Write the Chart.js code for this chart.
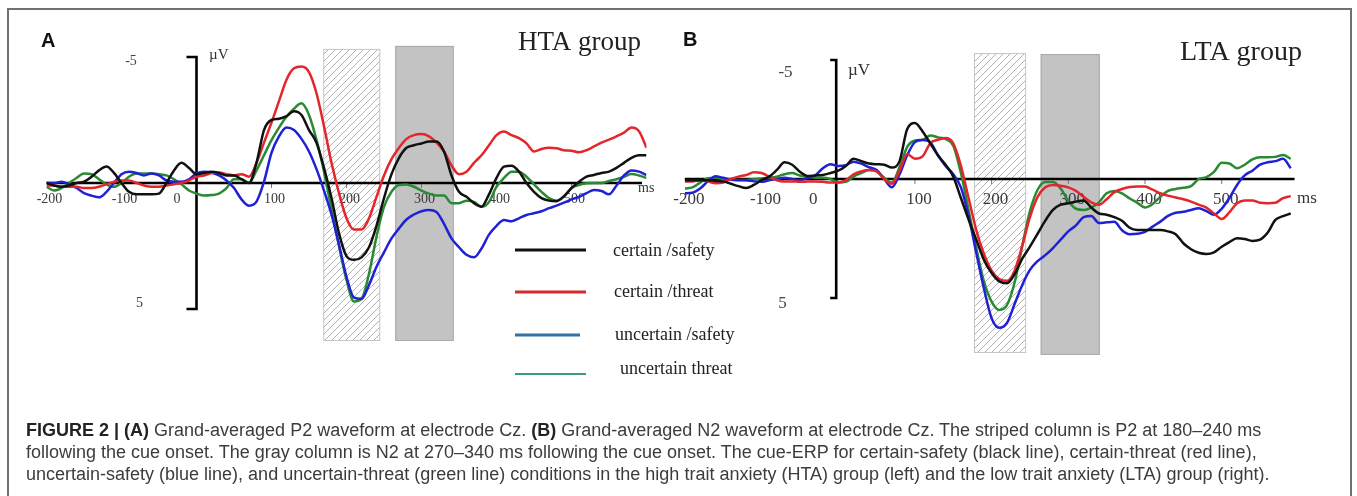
<!DOCTYPE html>
<html>
<head>
<meta charset="utf-8">
<script src="https://cdn.jsdelivr.net/npm/chart.js@4.4.1/dist/chart.umd.min.js"></script>
<style>
  body { margin: 0; background: #fff; width: 1357px; height: 496px; overflow: hidden; position: relative; }
  canvas { position: absolute; left: 0; top: 0; }
  #frame { position: absolute; left: 7px; top: 8px; width: 1345px; height: 520px; border: 2px solid #707070; box-sizing: border-box; }
  #caption { position: absolute; left: 26px; top: 419px; white-space: nowrap;
    font: 18px/22px "Liberation Sans", Arial, sans-serif; color: #3c3c3c; }
  #caption b { color: #222; }
</style>
</head>
<body>
<div id="frame"></div>
<canvas id="chartA" width="1357" height="496"></canvas>
<canvas id="chartB" width="1357" height="496"></canvas>
<div id="caption"><b>FIGURE 2 | (A)</b> Grand-averaged P2 waveform at electrode Cz. <b>(B)</b> Grand-averaged N2 waveform at electrode Cz. The striped column is P2 at 180–240 ms<br>following the cue onset. The gray column is N2 at 270–340 ms following the cue onset. The cue-ERP for certain-safety (black line), certain-threat (red line),<br>uncertain-safety (blue line), and uncertain-threat (green line) conditions in the high trait anxiety (HTA) group (left) and the low trait anxiety (LTA) group (right).</div>

<script>
// ---- data (ms / µV, negative up) ----
const conditions = ['certain /safety', 'certain /threat', 'uncertain /safety', 'uncertain threat'];
const lineColors = ['#111111', '#e4262b', '#2020d6', '#2a8a34'];
const legendColors = ['#111111', '#d42a2a', '#2f73a8', '#3c9c72'];
const xTicks = [-200, -100, 0, 100, 200, 300, 400, 500];

const timesA = [-200, -190, -180, -170, -160, -150, -140, -130, -120, -110,
  -100, -90, -80, -70, -60, -50, -40, -30, -20, -10,
  0, 10, 20, 30, 40, 50, 60, 70, 80, 90,
  100, 110, 120, 130, 140, 150, 160, 170, 180, 190,
  200, 210, 220, 230, 240, 250, 260, 270, 280, 290,
  300, 310, 320, 330, 340, 350, 360, 370, 380, 390,
  400, 410, 420, 430, 440, 450, 460, 470, 480, 490,
  500, 510, 520, 530, 540, 550, 560, 570, 580, 590, 600];

// HTA group
const htaCertainSafety = [0.0, 0.1, 0.15, 0.1, 0.0, -0.05, -0.25, -0.5, -0.65, -0.4,
  0.0, 0.35, 0.45, 0.45, 0.45, 0.42, 0.0, -0.5, -0.8, -0.6,
  -0.35, -0.4, -0.45, -0.4, -0.3, -0.3, -0.15, 0.0, -0.8, -2.1,
  -2.5, -2.55, -2.65, -2.85, -2.7, -2.1, -1.6, -0.6, 0.6, 2.0,
  2.9, 3.05, 2.95, 2.55, 1.7, 0.6, -0.35, -1.0, -1.4, -1.5,
  -1.57, -1.65, -1.65, -1.25, -0.3, 0.35, 0.55, 0.8, 0.94, 0.45,
  -0.2, -0.65, -0.68, -0.45, 0.0, 0.35, 0.6, 0.7, 0.72, 0.52,
  0.2, -0.05, -0.25, -0.32, -0.4, -0.45, -0.6, -0.8, -1.0, -1.1, -1.1];
const htaCertainThreat = [0.1, 0.1, 0.15, 0.15, 0.15, 0.2, 0.2, 0.15, 0.05, -0.05,
  -0.1, -0.1, 0.0, 0.1, 0.15, 0.15, 0.1, 0.05, 0.0, -0.1,
  -0.25, -0.3, -0.4, -0.42, -0.35, -0.3, -0.35, -0.25, -0.8, -1.6,
  -2.4, -3.25, -4.1, -4.55, -4.62, -4.4, -3.56, -2.25, -0.8, 0.4,
  1.4, 1.85, 1.85, 1.4, 0.55, -0.3, -0.95, -1.4, -1.75, -1.9,
  -1.94, -1.85, -1.6, -1.25, -0.7, -0.35, -0.45, -0.8, -1.1, -1.5,
  -1.9, -2.04, -1.9, -1.78, -1.57, -1.25, -1.35, -1.4, -1.38, -1.3,
  -1.28, -1.22, -1.3, -1.45, -1.6, -1.72, -1.85, -2.0, -2.2, -2.05, -1.4];
const htaUncertainSafety = [0.0, 0.0, -0.05, 0.05, 0.2, 0.4, 0.5, 0.57, 0.35, 0.0,
  -0.35, -0.45, -0.4, -0.3, -0.38, -0.3, -0.1, -0.05, -0.05, -0.15,
  -0.38, -0.45, -0.42, -0.3, -0.1, 0.2, 0.65, 0.9, 0.74, -0.05,
  -1.2, -1.85, -2.2, -2.1, -1.75, -1.25, -0.55, 0.3, 1.25, 2.45,
  3.72, 4.55, 4.6, 4.05, 3.32, 2.75, 2.2, 1.8, 1.45, 1.25,
  1.12, 1.07, 1.15, 1.62, 2.2, 2.55, 2.85, 2.95, 2.6, 2.05,
  1.7, 1.47, 1.52, 1.4, 1.27, 1.2, 1.12, 1.0, 0.9, 0.78,
  0.65, 0.55, 0.4, 0.28, 0.32, 0.45, 0.1, -0.3, -0.5, -0.45, -0.32];
const htaUncertainThreat = [0.15, 0.3, 0.2, 0.0, -0.2, -0.38, -0.35, -0.15, 0.05, 0.15,
  0.0, -0.25, -0.38, -0.38, -0.38, -0.35, -0.3, -0.15, 0.05, 0.3,
  0.42, 0.5, 0.48, 0.42, 0.2, -0.15, -0.15, 0.0, -0.5, -1.1,
  -1.7, -2.2, -2.63, -2.95, -3.16, -2.7, -1.71, -0.45, 1.05, 2.5,
  3.85, 4.7, 4.6, 3.6, 2.13, 0.95, 0.35, 0.08, 0.06, 0.15,
  0.3, 0.42, 0.5, 0.5, 0.8, 0.8, 0.7, 0.75, 0.94, 0.75,
  0.15, -0.2, -0.45, -0.45, -0.25, 0.05, 0.35, 0.6, 0.7, 0.54,
  0.2, 0.08, 0.01, 0.0, 0.0, -0.08, -0.15, -0.25, -0.36, -0.3, -0.2];

const timesB = [-200, -190, -180, -170, -160, -150, -140, -130, -120, -110,
  -100, -90, -80, -70, -60, -50, -40, -30, -20, -10,
  0, 10, 20, 30, 40, 50, 60, 70, 80, 90,
  100, 110, 120, 130, 140, 150, 160, 170, 180, 190,
  200, 210, 220, 230, 240, 250, 260, 270, 280, 290,
  300, 310, 320, 330, 340, 350, 360, 370, 380, 390,
  400, 410, 420, 430, 440, 450, 460, 470, 480, 490,
  500, 510, 520, 530, 540, 550, 560, 570, 580, 590];

// LTA group
const ltaCertainSafety = [0.05, 0.05, 0.05, 0.05, 0.08, 0.1, 0.2, 0.3, 0.38, 0.25,
  0.05, -0.1, -0.38, -0.7, -0.6, -0.3, -0.13, -0.15, -0.17, -0.25,
  -0.35, -0.55, -0.85, -0.75, -0.65, -0.62, -0.6, -0.48, -0.75, -2.1,
  -2.35, -2.0, -1.5, -1.0, -0.6, -0.1, 0.8, 1.7, 2.55, 3.4,
  3.95, 4.3, 4.38, 4.0, 3.35, 2.84, 2.3, 1.75, 1.3, 1.08,
  1.02, 0.95, 0.9, 1.2, 1.45, 1.5, 1.6, 1.75, 2.05, 2.14,
  2.14, 2.14, 2.14, 2.2, 2.32, 2.7, 2.95, 3.1, 3.15, 3.08,
  2.85, 2.65, 2.49, 2.52, 2.6, 2.55, 2.25, 1.72, 1.56, 1.45];
const ltaCertainThreat = [0.1, 0.1, 0.05, 0.1, 0.18, 0.15, 0.0, -0.1, -0.17, -0.28,
  -0.25, -0.1, 0.05, 0.1, 0.1, 0.12, 0.11, 0.1, 0.12, 0.15,
  0.15, 0.05, -0.2, -0.32, -0.38, -0.32, 0.0, 0.2, -0.35, -1.05,
  -0.85, -0.95, -1.5, -1.65, -1.72, -1.5, -0.55, 0.8, 2.15, 3.15,
  3.85, 4.2, 4.28, 3.85, 2.8, 1.6, 0.75, 0.35, 0.25, 0.28,
  0.35, 0.5, 0.75, 0.98, 1.08, 0.85, 0.55, 0.42, 0.34, 0.32,
  0.32, 0.45, 0.6, 0.7, 0.78, 0.85, 0.95, 1.08, 1.2, 1.45,
  1.68, 1.4, 1.02, 0.9, 0.9, 1.0, 1.02, 1.0, 0.8, 0.72];
const ltaUncertainSafety = [0.6, 0.58, 0.4, 0.1, -0.12, -0.05, 0.02, 0.05, 0.05, 0.1,
  0.12, 0.05, 0.0, -0.05, 0.0, 0.05, -0.05, -0.15, -0.45, -0.62,
  -0.55, -0.58, -0.73, -0.65, -0.5, -0.38, 0.0, 0.35, -0.2, -1.0,
  -1.55, -1.64, -1.55, -1.0, -0.55, -0.2, 0.35, 1.55, 3.1, 4.6,
  5.85, 6.25, 6.05, 5.25, 4.45, 3.82, 3.45, 3.2, 2.9, 2.55,
  2.2, 1.95, 1.6, 1.55, 1.85, 1.82, 1.8, 2.15, 2.32, 2.3,
  2.22, 2.0, 1.79, 1.55, 1.42, 1.38, 1.3, 1.23, 1.35, 1.5,
  1.25, 0.8, 0.25, -0.15, -0.35, -0.6, -0.7, -0.75, -0.85, -0.45];
const ltaUncertainThreat = [0.4, 0.35, 0.15, -0.03, -0.05, 0.0, 0.03, 0.04, 0.04, 0.0,
  -0.02, -0.05, -0.1, -0.2, -0.25, -0.15, -0.1, -0.05, -0.05, 0.0,
  0.15, 0.12, -0.1, -0.25, -0.38, -0.33, -0.05, 0.15, -0.5, -1.35,
  -1.62, -1.65, -1.83, -1.75, -1.68, -1.4, -0.25, 1.3, 2.9, 4.3,
  5.15, 5.5, 5.3, 4.35, 2.8, 1.35, 0.45, 0.13, 0.13, 0.4,
  0.92, 1.25, 1.3, 1.2, 0.98, 0.6, 0.5, 0.6, 0.82, 1.0,
  1.2, 1.05, 0.75, 0.5, 0.42, 0.37, 0.3, 0.0, -0.08, -0.3,
  -0.68, -0.65, -0.45, -0.6, -0.82, -0.91, -0.91, -0.93, -1.01, -0.85];

// analysis windows (ms)
const stripedWindowA = [169, 245];
const grayWindowA = [265, 343];
const stripedWindowB = [177, 245];
const grayWindowB = [264, 341];

const SERIF = '"Liberation Serif", "DejaVu Serif", serif';
const SANS = '"Liberation Sans", Arial, sans-serif';

function stripePattern(ctx) {
  const c = document.createElement('canvas');
  c.width = 7; c.height = 7;
  const g = c.getContext('2d');
  g.strokeStyle = '#b2b2b2';
  g.lineWidth = 1;
  g.beginPath();
  g.moveTo(0, 7); g.lineTo(7, 0);
  g.moveTo(-1, 1); g.lineTo(1, -1);
  g.moveTo(6, 8); g.lineTo(8, 6);
  g.stroke();
  return ctx.createPattern(c, 'repeat');
}

function text(ctx, str, x, y, font, color, align) {
  ctx.font = font;
  ctx.fillStyle = color || '#222';
  ctx.textAlign = align || 'left';
  ctx.textBaseline = 'alphabetic';
  ctx.fillText(str, x, y);
}

// draws windows, zero line, bracket, labels and (panel A only) the legend
function makeDecor(p) {
  return {
    id: 'erpDecor',
    beforeDatasetsDraw(chart) {
      const ctx = chart.ctx;
      const X = v => chart.scales.x.getPixelForValue(v);
      const Y = v => chart.scales.y.getPixelForValue(v);
      ctx.save();

      // striped column
      let l = X(p.striped[0]), r = X(p.striped[1]);
      let t = Y(p.stripedSpan[0]), b = Y(p.stripedSpan[1]);
      ctx.fillStyle = '#fff';
      ctx.fillRect(l, t, r - l, b - t);
      ctx.fillStyle = stripePattern(ctx);
      ctx.fillRect(l, t, r - l, b - t);
      ctx.strokeStyle = '#c6c6c6';
      ctx.lineWidth = 1;
      ctx.strokeRect(l + 0.5, t + 0.5, r - l - 1, b - t - 1);

      // gray column
      l = X(p.gray[0]); r = X(p.gray[1]);
      t = Y(p.graySpan[0]); b = Y(p.graySpan[1]);
      ctx.fillStyle = '#c3c3c3';
      ctx.fillRect(l, t, r - l, b - t);
      ctx.strokeStyle = '#a9a9a9';
      ctx.strokeRect(l + 0.5, t + 0.5, r - l - 1, b - t - 1);

      // tick labels + small ticks
      xTicks.forEach(v => {
        const px = v === 0 ? X(0) + p.zeroLabelShift : X(v) + p.labelShift;
        text(ctx, String(v), px, Y(0) + p.labelDrop, p.tickFont, '#3a3a3a', 'center');
        if (v > 0) {
          ctx.strokeStyle = '#777';
          ctx.lineWidth = 1;
          ctx.beginPath();
          ctx.moveTo(X(v), Y(0));
          ctx.lineTo(X(v), Y(0) + 5);
          ctx.stroke();
        }
      });

      // zero line
      ctx.strokeStyle = '#000';
      ctx.lineWidth = 2.4;
      ctx.beginPath();
      ctx.moveTo(X(-200), Y(0));
      ctx.lineTo(X(p.axisEnd), Y(0));
      ctx.stroke();

      // µV bracket from -5 to 5 at t = 0
      const bx = X(0) + p.bracketShift;
      ctx.lineWidth = 2.6;
      ctx.beginPath();
      ctx.moveTo(bx - p.bracketTick, Y(-5));
      ctx.lineTo(bx, Y(-5));
      ctx.lineTo(bx, Y(5));
      ctx.lineTo(bx - p.bracketTick, Y(5));
      ctx.stroke();

      p.labels.forEach(s => text(ctx, s.text, s.x, s.y, s.font, s.color, s.align));
      ctx.restore();
    },
    afterDatasetsDraw(chart) {
      if (!p.legend) return;
      const ctx = chart.ctx;
      const lg = p.legend;
      ctx.save();
      conditions.forEach((name, i) => {
        ctx.strokeStyle = legendColors[i];
        ctx.lineWidth = lg.widths[i];
        ctx.beginPath();
        ctx.moveTo(lg.lineX[0], lg.rowY[i]);
        ctx.lineTo(lg.lineEnd[i], lg.rowY[i]);
        ctx.stroke();
        text(ctx, name, lg.textX[i], lg.textY[i], '18px ' + SERIF, '#222', 'left');
      });
      ctx.restore();
    }
  };
}

const panelA = {
  striped: stripedWindowA, stripedSpan: [-5.32, 6.27],
  gray: grayWindowA, graySpan: [-5.44, 6.27],
  axisEnd: 594, bracketShift: 0, bracketTick: 10,
  tickFont: '14px ' + SERIF, labelShift: 3, zeroLabelShift: -19.5, labelDrop: 20,
  labels: [
    { text: 'A', x: 41, y: 47, font: 'bold 20px ' + SANS, color: '#111' },
    { text: 'HTA group', x: 518, y: 50, font: '27px ' + SERIF, color: '#222' },
    { text: 'µV', x: 209, y: 59, font: '15px ' + SERIF, color: '#333' },
    { text: '-5', x: 131, y: 65, font: '14px ' + SERIF, color: '#444', align: 'center' },
    { text: '5', x: 139.5, y: 307, font: '14px ' + SERIF, color: '#444', align: 'center' },
    { text: 'ms', x: 638, y: 192, font: '14px ' + SERIF, color: '#333' }
  ],
  legend: {
    lineX: [515], lineEnd: [586, 586, 580, 586],
    rowY: [250, 292, 335, 374], widths: [3, 3, 3, 2],
    textX: [613, 614, 615, 620], textY: [256, 297, 340, 374]
  }
};

const panelB = {
  striped: stripedWindowB, stripedSpan: [-5.29, 7.31],
  gray: grayWindowB, graySpan: [-5.25, 7.39],
  axisEnd: 595, bracketShift: -2, bracketTick: 6,
  tickFont: '17px ' + SERIF, labelShift: 4, zeroLabelShift: -25, labelDrop: 25,
  labels: [
    { text: 'B', x: 683, y: 46, font: 'bold 20px ' + SANS, color: '#111' },
    { text: 'LTA group', x: 1180, y: 60, font: '28px ' + SERIF, color: '#222' },
    { text: 'µV', x: 848, y: 75, font: '17px ' + SERIF, color: '#333' },
    { text: '-5', x: 785.5, y: 77, font: '17px ' + SERIF, color: '#444', align: 'center' },
    { text: '5', x: 782.5, y: 308, font: '17px ' + SERIF, color: '#444', align: 'center' },
    { text: 'ms', x: 1297, y: 203, font: '17px ' + SERIF, color: '#333' }
  ],
  legend: null
};

function buildDatasets(times, series) {
  return series.map((vals, i) => ({
    label: conditions[i],
    data: times.map((t, k) => ({ x: t, y: vals[k] })),
    borderColor: lineColors[i],
    borderWidth: 2.5,
    pointRadius: 0,
    fill: false,
    cubicInterpolationMode: 'monotone'
  }));
}

function makeChart(id, times, series, padding, xMax, panel) {
  return new Chart(document.getElementById(id), {
    type: 'line',
    data: { datasets: buildDatasets(times, series) },
    options: {
      responsive: false,
      animation: false,
      layout: { padding },
      scales: {
        x: { type: 'linear', min: -200, max: xMax, display: false },
        y: { type: 'linear', min: -6.5, max: 8, reverse: true, display: false }
      },
      plugins: { legend: { display: false }, tooltip: { enabled: false } }
    },
    plugins: [makeDecor(panel)]
  });
}

// A: 0 ms at x=196.5 (0.75 px/ms), 0 µV at y=183 (25.2 px/µV)
makeChart('chartA', timesA,
  [htaCertainSafety, htaCertainThreat, htaUncertainSafety, htaUncertainThreat],
  { left: 46.5, right: 710.5, top: 19.2, bottom: 111.4 }, 600, panelA);

// B: 0 ms at x=838.2 (0.767 px/ms), 0 µV at y=179 (23.8 px/µV)
makeChart('chartB', timesB,
  [ltaCertainSafety, ltaCertainThreat, ltaUncertainSafety, ltaUncertainThreat],
  { left: 684.8, right: 58.6, top: 24.3, bottom: 126.6 }, 600, panelB);
</script>
</body>
</html>
